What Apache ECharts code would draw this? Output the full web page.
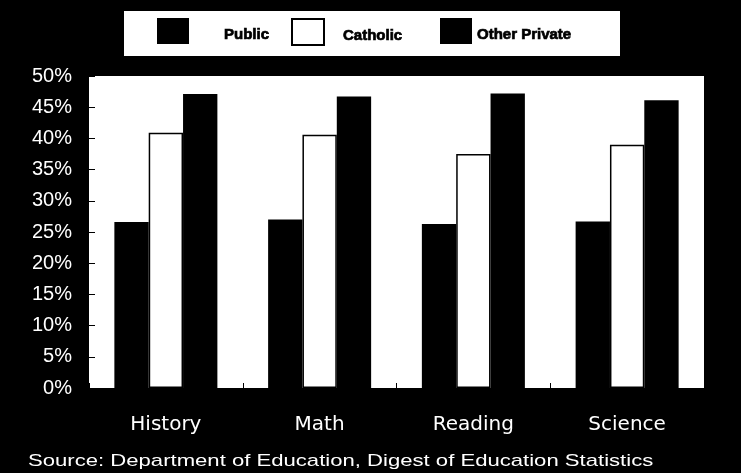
<!DOCTYPE html>
<html>
<head>
<meta charset="utf-8">
<script src="https://cdn.jsdelivr.net/npm/echarts@6/dist/echarts.min.js"></script>
<style>
  html, body { margin: 0; padding: 0; background: #000; }
  #chart { width: 741px; height: 473px; }
</style>
</head>
<body>
<div id="chart"></div>
<script>
// Share of students at or above proficiency, by subject and school type (%)
const subjects = ['History', 'Math', 'Reading', 'Science'];
const publicValues = [26.6, 27.0, 26.3, 26.7];
const catholicValues = [40.9, 40.6, 37.5, 39.0];
const otherPrivateValues = [47.1, 46.7, 47.2, 46.1];
const seriesNames = ['Public', 'Catholic', 'Other Private'];
const sourceNote = 'Source: Department of Education, Digest of Education Statistics';

const FONT = '"Liberation Sans", Arial, sans-serif';
const WIDE_FONT = '"DejaVu Sans", "Liberation Sans", sans-serif';

const chart = echarts.init(document.getElementById('chart'), null, { renderer: 'canvas' });

function legendFor(name, left, textGap) {
  return {
    data: [name],
    left: left,
    top: 18,
    padding: 0,
    itemWidth: 32,
    itemHeight: 26,
    icon: 'rect',
    selectedMode: false,
    formatter: '{t|{name}}',
    textStyle: {
      rich: {
        t: {
          color: '#000',
          fontFamily: FONT,
          fontWeight: 'bold',
          fontSize: 15,
          textBorderColor: '#000',
          textBorderWidth: 0.7,
          padding: [7, 0, 0, textGap]
        }
      }
    }
  };
}

const option = {
  backgroundColor: '#000',
  animation: false,
  textStyle: { fontFamily: FONT },
  graphic: [
    {
      type: 'rect',
      shape: { x: 124, y: 11, width: 496, height: 45 },
      style: { fill: '#fff' },
      z: 0
    },
    {
      type: 'text',
      x: 28,
      y: 461,
      scaleX: 1.3,
      style: {
        text: sourceNote,
        fill: '#fff',
        font: '17px ' + FONT,
        verticalAlign: 'middle'
      }
    }
  ],
  legend: [
    legendFor(seriesNames[0], 157, 30),
    legendFor(seriesNames[1], 291, 14),
    legendFor(seriesNames[2], 440, 0)
  ],
  grid: {
    left: 89,
    right: 37,
    top: 76,
    bottom: 85,
    show: true,
    backgroundColor: '#fff',
    borderWidth: 0,
    containLabel: false
  },
  xAxis: {
    type: 'category',
    data: subjects,
    axisLine: { show: true, lineStyle: { color: '#000', width: 1 } },
    axisTick: { show: true, inside: true, length: 5, lineStyle: { color: '#000' } },
    axisLabel: {
      color: '#fff',
      fontSize: 20,
      margin: 27,
      fontFamily: WIDE_FONT
    },
    splitLine: { show: false }
  },
  yAxis: {
    type: 'value',
    min: 0,
    max: 50,
    interval: 5,
    axisLine: { show: false },
    axisTick: { show: true, inside: true, length: 6, lineStyle: { color: '#000' } },
    axisLabel: {
      color: '#fff',
      fontSize: 20,
      margin: 17,
      fontFamily: FONT,
      formatter: '{value}%'
    },
    splitLine: { show: false }
  },
  series: [
    {
      name: seriesNames[0],
      type: 'bar',
      data: publicValues,
      barGap: '0%',
      barCategoryGap: '33%',
      itemStyle: { color: '#000' }
    },
    {
      name: seriesNames[1],
      type: 'bar',
      data: catholicValues,
      itemStyle: { color: '#fff', borderColor: '#000', borderWidth: 1.5 }
    },
    {
      name: seriesNames[2],
      type: 'bar',
      data: otherPrivateValues,
      itemStyle: { color: '#000' }
    }
  ]
};

chart.setOption(option);
</script>
</body>
</html>
